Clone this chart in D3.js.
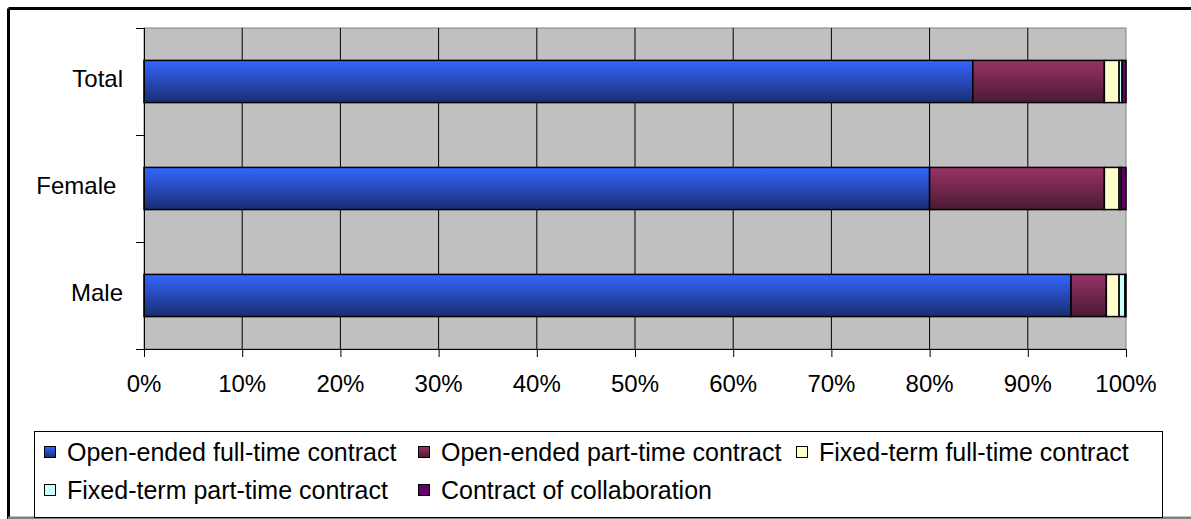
<!DOCTYPE html>
<html>
<head>
<meta charset="utf-8">
<script src="https://cdn.jsdelivr.net/npm/d3@7"></script>
<style>
  body { margin: 0; background: #fff; }
  svg { display: block; font-family: "Liberation Sans", Arial, sans-serif; }
  .axis path, .axis line { stroke: #000; }
  .cat { white-space: pre; }
</style>
</head>
<body>
<svg width="1191" height="519"></svg>
<script>
// categories top to bottom (the source label has a trailing space on Female)
const categories = ['Total', 'Female ', 'Male'];
const seriesNames = [
  'Open-ended full-time contract',
  'Open-ended part-time contract',
  'Fixed-term full-time contract',
  'Fixed-term part-time contract',
  'Contract of collaboration'
];
// shares in %, per category (same order as categories)
const openFull  = [84.4, 80.0, 94.4];
const openPart  = [13.4, 17.8, 3.6];
const fixedFull = [1.5, 1.5, 1.3];
const fixedPart = [0.3, 0.2, 0.6];
const collab    = [0.4, 0.5, 0.1];
const xTicks = [0, 0.1, 0.2, 0.3, 0.4, 0.5, 0.6, 0.7, 0.8, 0.9, 1];

const colors = [
  ['#3366ff', '#1a2d72'],
  ['#993366', '#4a1a33'],
  ['#ffffcc', '#ffffcc'],
  ['#ccffff', '#ccffff'],
  ['#660066', '#660066']
];

const margin = { left: 144, right: 65, top: 28, bottom: 170 };
const svg = d3.select('svg');
const width = +svg.attr('width');
const height = +svg.attr('height');
const innerWidth = width - margin.left - margin.right;
const innerHeight = height - margin.top - margin.bottom;

// outer frame
svg.append('line').attr('x1', 8.5).attr('x2', width).attr('y1', 8.5).attr('y2', 8.5)
  .attr('stroke', '#000').attr('stroke-width', 3);
svg.append('line').attr('x1', 8.5).attr('x2', 8.5).attr('y1', 8.5).attr('y2', height)
  .attr('stroke', '#000').attr('stroke-width', 3);
svg.append('line').attr('x1', 8).attr('x2', width).attr('y1', 518).attr('y2', 518)
  .attr('stroke', '#808080').attr('stroke-width', 3);

const defs = svg.append('defs');
colors.forEach((c, i) => {
  const lg = defs.append('linearGradient').attr('id', 'grad' + i)
    .attr('x1', 0).attr('x2', 0).attr('y1', 0).attr('y2', 1);
  lg.append('stop').attr('offset', '0%').attr('stop-color', c[0]);
  lg.append('stop').attr('offset', '100%').attr('stop-color', c[1]);
});

const rows = categories.map((c, i) => ({
  cat: c,
  [seriesNames[0]]: openFull[i],
  [seriesNames[1]]: openPart[i],
  [seriesNames[2]]: fixedFull[i],
  [seriesNames[3]]: fixedPart[i],
  [seriesNames[4]]: collab[i]
}));
const stacked = d3.stack().keys(seriesNames)
  .offset(d3.stackOffsetExpand)(rows);

const g = svg.append('g')
  .attr('transform', `translate(${margin.left},${margin.top})`);

const xScale = d3.scaleLinear().domain([0, 1]).range([0, innerWidth]);
const yScale = d3.scaleBand().domain(categories).range([0, innerHeight])
  .paddingInner(0.606).paddingOuter(0.303);
const yEdge = d3.scaleLinear().domain([0, categories.length]).range([0, innerHeight]);

// plot background
g.append('rect')
  .attr('width', innerWidth).attr('height', innerHeight)
  .attr('fill', '#c0c0c0').attr('stroke', '#808080');

// vertical gridlines
g.append('g').selectAll('line').data(xTicks.slice(1, -1))
  .join('line')
    .attr('x1', d => xScale(d)).attr('x2', d => xScale(d))
    .attr('y1', 0).attr('y2', innerHeight)
    .attr('stroke', '#000');

// bars
g.append('g').selectAll('g').data(stacked)
  .join('g')
    .attr('fill', (d, i) => `url(#grad${i})`)
  .selectAll('rect').data(d => d)
  .join('rect')
    .attr('x', d => xScale(d[0]))
    .attr('y', d => yScale(d.data.cat))
    .attr('width', d => xScale(d[1]) - xScale(d[0]))
    .attr('height', yScale.bandwidth())
    .attr('stroke', '#000')
    .attr('stroke-width', 1.5);

// x axis (lines from the axis, labels placed below)
const xAxis = d3.axisBottom(xScale)
  .tickValues(xTicks)
  .tickFormat('')
  .tickSizeInner(8).tickSizeOuter(0);
g.append('g').attr('class', 'axis')
  .attr('transform', `translate(0,${innerHeight})`)
  .call(xAxis)
  .call(a => a.select('.domain').attr('d', `M-8,0.5H${innerWidth}`));

const pct = d3.format('.0%');
svg.append('g').selectAll('text').data(xTicks)
  .join('text')
    .attr('x', d => margin.left + xScale(d))
    .attr('y', margin.top + innerHeight + 43)
    .attr('text-anchor', 'middle')
    .style('font-size', '24px')
    .text(d => pct(d));

// y axis: ticks at category boundaries
const yAxis = d3.axisLeft(yEdge)
  .tickValues(d3.range(categories.length + 1))
  .tickFormat('')
  .tickSizeInner(8).tickSizeOuter(0);
g.append('g').attr('class', 'axis')
  .call(yAxis)
  .call(a => a.select('.domain').attr('d', `M0.5,0V${innerHeight}`));

svg.append('g').selectAll('text').data(categories)
  .join('text')
    .attr('class', 'cat')
    .attr('x', margin.left - 21)
    .attr('y', d => margin.top + yScale(d) + yScale.bandwidth() / 2 + 5)
    .attr('text-anchor', 'end')
    .style('font-size', '24px')
    .text(d => d);

// legend
const legendX = [44, 418, 796];
const legendY = [452, 490];
const legendPos = [[0, 0], [1, 0], [2, 0], [0, 1], [1, 1]];
svg.append('rect')
  .attr('x', 34.5).attr('y', 431.5)
  .attr('width', 1128).attr('height', 86)
  .attr('fill', '#fff').attr('stroke', '#000');
const legend = svg.append('g');
legend.selectAll('rect').data(seriesNames)
  .join('rect')
    .attr('x', (d, i) => legendX[legendPos[i][0]] + 0.5)
    .attr('y', (d, i) => legendY[legendPos[i][1]] - 5.5)
    .attr('width', 11).attr('height', 11)
    .attr('fill', (d, i) => `url(#grad${i})`)
    .attr('stroke', '#000');
legend.selectAll('text').data(seriesNames)
  .join('text')
    .attr('x', (d, i) => legendX[legendPos[i][0]] + 23)
    .attr('y', (d, i) => legendY[legendPos[i][1]] + 9)
    .style('font-size', '25px')
    .text(d => d);
</script>
</body>
</html>
